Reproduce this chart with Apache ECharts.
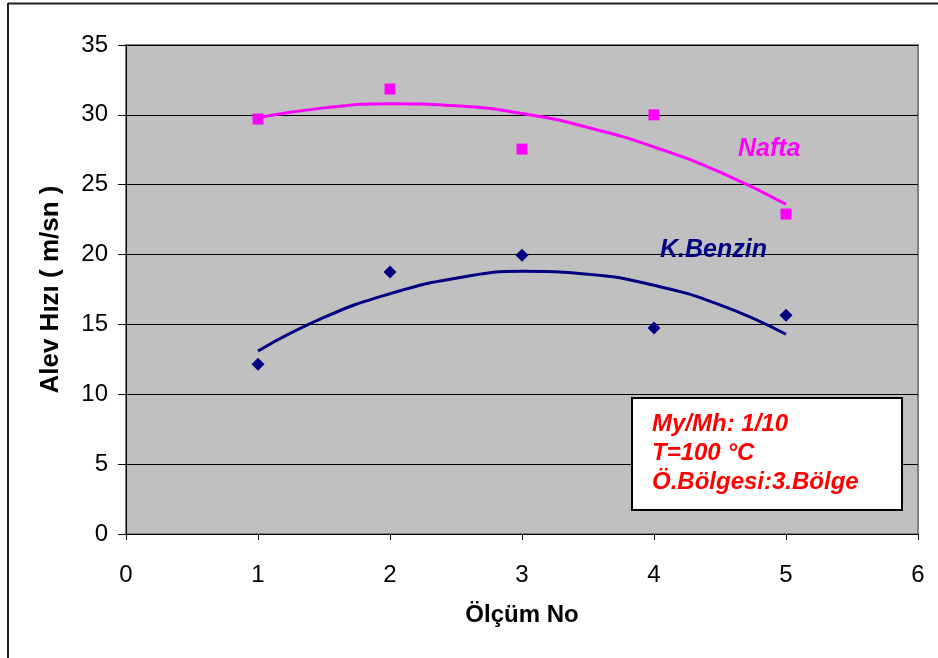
<!DOCTYPE html>
<html>
<head>
<meta charset="utf-8">
<script src="https://cdn.jsdelivr.net/npm/echarts@6/dist/echarts.min.js"></script>
<style>
  html, body { margin: 0; padding: 0; background: #fff; }
  #chart { width: 938px; height: 658px; }
</style>
</head>
<body>
<div id="chart"></div>
<script>
// measured points (Ölçüm No 1..5)
const olcumNo = [1, 2, 3, 4, 5];
const naftaHiz = [29.7, 31.85, 27.55, 30.0, 22.9];
const benzinHiz = [12.15, 18.75, 19.95, 14.75, 15.65];

// trend curves at half steps
const trendX = [1, 1.5, 2, 2.5, 3, 3.5, 4, 4.5, 5];
const naftaTrend = [29.8, 30.5, 30.8, 30.65, 30.1, 29.1, 27.7, 25.9, 23.6];
const benzinTrend = [13.1, 15.5, 17.2, 18.3, 18.8, 18.6, 17.8, 16.4, 14.3];

const yTicks = [0, 5, 10, 15, 20, 25, 30, 35];
const xTicks = [0, 1, 2, 3, 4, 5, 6];

const infoLines = ['My/Mh: 1/10', 'T=100 °C', 'Ö.Bölgesi:3.Bölge'];

const pair = (xs, ys) => xs.map((x, i) => [x, ys[i]]);

const myChart = echarts.init(document.getElementById('chart'));
myChart.setOption({
  animation: false,
  backgroundColor: '#fff',
  textStyle: { fontFamily: 'Liberation Sans, Arial, sans-serif' },
  grid: {
    left: 126, top: 45, right: 20, bottom: 124,
    show: true, backgroundColor: '#c0c0c0',
    borderColor: '#808080', borderWidth: 2
  },
  xAxis: {
    type: 'value',
    min: xTicks[0], max: xTicks[xTicks.length - 1], interval: 1,
    name: 'Ölçüm No', nameLocation: 'middle', nameGap: 69,
    nameTextStyle: { fontSize: 24, fontWeight: 'bold', color: '#000' },
    axisLine: { lineStyle: { color: '#000', width: 1 } },
    axisTick: { show: true, length: 6, lineStyle: { color: '#000' } },
    axisLabel: { fontSize: 24, color: '#000', margin: 29 },
    splitLine: { show: false }
  },
  yAxis: {
    type: 'value',
    min: yTicks[0], max: yTicks[yTicks.length - 1], interval: 5,
    name: 'Alev Hızı ( m/sn )', nameLocation: 'middle', nameGap: 62,
    nameTextStyle: { fontSize: 26, fontWeight: 'bold', color: '#000' },
    axisLine: { show: true, lineStyle: { color: '#000', width: 1 } },
    axisTick: { show: true, length: 8, lineStyle: { color: '#000' } },
    axisLabel: { fontSize: 24, color: '#000', margin: 18 },
    splitLine: { show: true, lineStyle: { color: '#000', width: 1 } }
  },
  series: [
    {
      name: 'Nafta trend', type: 'line', data: pair(trendX, naftaTrend),
      smooth: true, symbol: 'none',
      lineStyle: { color: '#ff00ff', width: 3 }, z: 3
    },
    {
      name: 'K.Benzin trend', type: 'line', data: pair(trendX, benzinTrend),
      smooth: true, symbol: 'none',
      lineStyle: { color: '#000080', width: 3 }, z: 3
    },
    {
      name: 'Nafta', type: 'scatter', data: pair(olcumNo, naftaHiz),
      symbol: 'rect', symbolSize: 11,
      itemStyle: { color: '#ff00ff', opacity: 1 }, z: 4
    },
    {
      name: 'K.Benzin', type: 'scatter', data: pair(olcumNo, benzinHiz),
      symbol: 'diamond', symbolSize: [13, 13],
      itemStyle: { color: '#000080', opacity: 1 }, z: 4
    }
  ],
  graphic: [
    // outer chart border (top and left only visible)
    { type: 'line', shape: { x1: 8, y1: 3.5, x2: 938, y2: 3.5 }, style: { stroke: '#222', lineWidth: 2 } },
    { type: 'line', shape: { x1: 8, y1: 3, x2: 8, y2: 658 }, style: { stroke: '#222', lineWidth: 2 } },
    {
      type: 'text', left: 738, top: 137, z: 10,
      style: { text: 'Nafta', fill: '#ff00ff', font: 'italic bold 25px Liberation Sans, Arial' }
    },
    {
      type: 'text', left: 660, top: 238, z: 10,
      style: { text: 'K.Benzin', fill: '#000080', font: 'italic bold 25px Liberation Sans, Arial' }
    },
    {
      type: 'rect', z: 10,
      shape: { x: 632, y: 398, width: 270, height: 112 },
      style: { fill: '#fff', stroke: '#000', lineWidth: 2 }
    },
    {
      type: 'text', left: 652, top: 410, z: 11,
      style: {
        text: infoLines.join('\n'), fill: '#ff0000', lineHeight: 29,
        font: 'italic bold 24px Liberation Sans, Arial'
      }
    }
  ]
});
</script>
</body>
</html>
